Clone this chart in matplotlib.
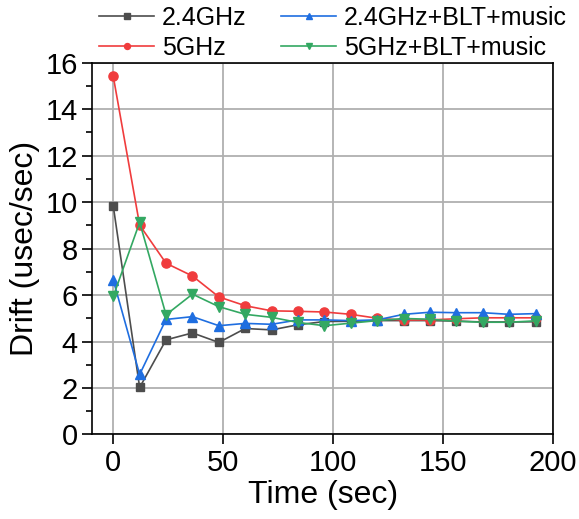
import matplotlib.pyplot as plt
from matplotlib.ticker import MultipleLocator

plt.rcParams['font.family'] = ['Liberation Sans', 'DejaVu Sans']

# sampling times (sec)
t = [0, 12, 24, 36, 48, 60, 72, 84, 96, 108, 120, 132, 144, 156, 168, 180, 192]

# drift in usec/sec for each setup
drift_24 = [9.84, 2.02, 4.07, 4.37, 3.96, 4.56, 4.50, 4.72, 4.86, 4.87, 4.90,
            4.90, 4.90, 4.88, 4.84, 4.84, 4.85]
drift_5 = [15.42, 9.01, 7.37, 6.82, 5.92, 5.54, 5.32, 5.30, 5.27, 5.17, 5.00,
           4.92, 4.93, 4.98, 5.02, 5.02, 5.02]
drift_24_blt = [6.65, 2.58, 4.95, 5.07, 4.68, 4.78, 4.74, 4.93, 4.93, 4.90, 4.93,
                5.17, 5.26, 5.24, 5.24, 5.17, 5.20]
drift_5_blt = [5.94, 9.13, 5.15, 6.04, 5.50, 5.17, 5.04, 4.82, 4.68, 4.79, 4.90,
               4.99, 4.96, 4.87, 4.83, 4.83, 4.89]

series = [
    ('2.4GHz', drift_24, '#4d4d4d', 's', 5.8),
    ('5GHz', drift_5, '#f03c3d', 'o', 6.6),
    ('2.4GHz+BLT+music', drift_24_blt, '#1f6ee0', '^', 7.6),
    ('5GHz+BLT+music', drift_5_blt, '#33a862', 'v', 7.6),
]

fig = plt.figure(figsize=(5.79, 5.19), dpi=100)
ax = fig.add_axes([0.1595, 0.163, 0.796, 0.716])

for name, vals, col, mk, ms in series:
    ax.plot(t, vals, color=col, marker=mk, markersize=ms, linewidth=1.2,
            label=name, zorder=3)

ax.set_xlim(-9.5, 200)
ax.set_ylim(0, 16)
ax.xaxis.set_major_locator(MultipleLocator(50))
ax.yaxis.set_major_locator(MultipleLocator(2))
ax.yaxis.set_minor_locator(MultipleLocator(1))
ax.grid(True, which='major', color='#b0b0b0', linewidth=1.3)
ax.set_axisbelow(True)

ax.tick_params(axis='both', which='major', direction='out', length=7,
               width=1.2, labelsize=21, top=False, right=False)
ax.tick_params(axis='y', which='minor', direction='out', length=4, width=1.2)
for sp in ax.spines.values():
    sp.set_linewidth(1.2)

ax.set_xlabel('Time (sec)', fontsize=23, labelpad=2)
ax.set_ylabel('Drift (usec/sec)', fontsize=23, labelpad=4)

handles, labels = ax.get_legend_handles_labels()
fig.legend(handles, labels, ncol=2, frameon=False, fontsize=18,
           loc='upper center', bbox_to_anchor=(0.575, 0.989),
           handlelength=2.2, handletextpad=0.3, columnspacing=1.4,
           labelspacing=0.24, markerscale=0.65, borderpad=0.0,
           borderaxespad=0.0)

fig.savefig('out.png', dpi=100)
